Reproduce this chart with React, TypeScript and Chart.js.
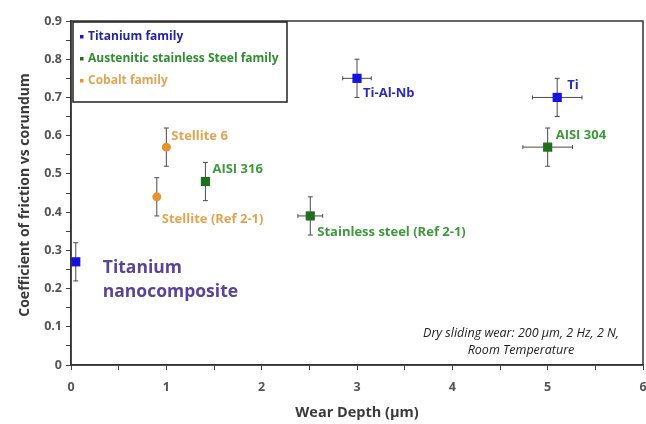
import React, { useEffect, useRef } from "react";
import { Chart, registerables } from "chart.js";

Chart.register(...registerables);

// ---- Data ----
const seriesNames = ["Titanium family", "Austenitic stainless Steel family", "Cobalt family"];

const tiLabels = ["Titanium\nnanocomposite", "Ti-Al-Nb", "Ti"];
const tiX = [0.05, 3.0, 5.1];
const tiY = [0.27, 0.75, 0.70];
const tiXErr = [0, 0.15, 0.26];
const tiYErr = [0.05, 0.05, 0.05];

const steelLabels = ["AISI 316", "Stainless steel (Ref 2-1)", "AISI 304"];
const steelX = [1.41, 2.51, 5.0];
const steelY = [0.48, 0.39, 0.57];
const steelXErr = [0.02, 0.13, 0.26];
const steelYErr = [0.05, 0.05, 0.05];

const cobaltLabels = ["Stellite 6", "Stellite (Ref 2-1)"];
const cobaltX = [1.0, 0.9];
const cobaltY = [0.57, 0.44];
const cobaltXErr = [0.03, 0];
const cobaltYErr = [0.05, 0.05];

const xTitle = "Wear Depth (µm)";
const yTitle = "Coefficient of friction vs corundum";
const noteLines = ["Dry sliding wear: 200 µm, 2 Hz, 2 N,", "Room Temperature"];

// ---- Styles (kept apart from the data) ----
const markerColors = ["#1414e0", "#1f6f1f", "#e8922e"];
const legendTextColors = ["#2424a8", "#2f8f2f", "#e2a456"];
const labelTextColors = ["#2b2bb5", "#3b9b3b", "#e3a452"];
const pointStyles = ["rect", "rect", "circle"];
// label offsets in px relative to the point: [dx, dy]
const labelOffsets = [
  [[27, 6], [6, 15], [10, -12]],
  [[7, -12], [7, 16], [8, -12]],
  [[5, -11], [5, 22]],
];

const FONT = "'Open Sans', Lato, sans-serif";

function mk(xs: number[], ys: number[], xe: number[], ye: number[], labels: string[]) {
  return xs.map((x, i) => ({ x, y: ys[i], xErr: xe[i], yErr: ye[i], label: labels[i] }));
}

const overlayPlugin = {
  id: "overlay",
  beforeDatasetsDraw(chart: any) {
    const ctx = chart.ctx;
    const xs = chart.scales.x;
    const ys = chart.scales.y;
    ctx.save();
    ctx.strokeStyle = "#4a4a4a";
    ctx.lineWidth = 1;
    chart.data.datasets.forEach((ds: any) => {
      ds.data.forEach((p: any) => {
        const px = xs.getPixelForValue(p.x);
        const py = ys.getPixelForValue(p.y);
        if (p.yErr) {
          const t = ys.getPixelForValue(p.y + p.yErr);
          const b = ys.getPixelForValue(p.y - p.yErr);
          ctx.beginPath();
          ctx.moveTo(px, t); ctx.lineTo(px, b);
          ctx.moveTo(px - 2.5, t); ctx.lineTo(px + 2.5, t);
          ctx.moveTo(px - 2.5, b); ctx.lineTo(px + 2.5, b);
          ctx.stroke();
        }
        if (p.xErr) {
          const l = xs.getPixelForValue(p.x - p.xErr);
          const r = xs.getPixelForValue(p.x + p.xErr);
          ctx.beginPath();
          ctx.moveTo(l, py); ctx.lineTo(r, py);
          ctx.moveTo(l, py - 2); ctx.lineTo(l, py + 2);
          ctx.moveTo(r, py - 2); ctx.lineTo(r, py + 2);
          ctx.stroke();
        }
      });
    });
    ctx.restore();
  },
  afterDraw(chart: any) {
    const ctx = chart.ctx;
    const xs = chart.scales.x;
    const ys = chart.scales.y;
    const a = chart.chartArea;
    ctx.save();
    // plot frame
    ctx.strokeStyle = "#333";
    ctx.lineWidth = 1.5;
    ctx.strokeRect(a.left, a.top, a.right - a.left, a.bottom - a.top);

    // point labels
    ctx.textBaseline = "middle";
    ctx.textAlign = "left";
    chart.data.datasets.forEach((ds: any, di: number) => {
      ds.data.forEach((p: any, i: number) => {
        const px = xs.getPixelForValue(p.x);
        const py = ys.getPixelForValue(p.y);
        const [dx, dy] = labelOffsets[di][i];
        const lines = String(p.label).split("\n");
        if (lines.length > 1) {
          ctx.font = `bold 17.5px ${FONT}`;
          ctx.fillStyle = "#5a4399";
          lines.forEach((ln, k) => ctx.fillText(ln, px + dx, py + dy + k * 24));
        } else {
          ctx.font = `bold 13px ${FONT}`;
          ctx.fillStyle = labelTextColors[di];
          ctx.fillText(lines[0], px + dx, py + dy);
        }
      });
    });

    // legend box
    const lx = 73, ly = 22, lw = 214, lh = 80;
    ctx.fillStyle = "#fff";
    ctx.fillRect(lx, ly, lw, lh);
    ctx.strokeStyle = "#222";
    ctx.lineWidth = 1.5;
    ctx.strokeRect(lx, ly, lw, lh);
    ctx.font = `bold 12px ${FONT}`;
    chart.data.datasets.forEach((ds: any, di: number) => {
      const y = 37 + di * 22;
      ctx.fillStyle = markerColors[di];
      ctx.fillRect(80, y - 2, 3.5, 3.5);
      ctx.fillStyle = legendTextColors[di];
      ctx.fillText(ds.label, 88, y);
    });

    // note
    ctx.font = `italic 12.5px ${FONT}`;
    ctx.fillStyle = "#222";
    ctx.textAlign = "center";
    ctx.fillText(noteLines[0], 521, 333);
    ctx.fillText(noteLines[1], 521, 350);

    // axis titles
    ctx.font = `bold 14.5px ${FONT}`;
    ctx.fillStyle = "#3a3a3a";
    ctx.fillText(xTitle, (a.left + a.right) / 2, 413);
    ctx.font = `bold 14px ${FONT}`;
    ctx.translate(25, 195);
    ctx.rotate(-Math.PI / 2);
    ctx.fillText(yTitle, 0, 0);
    ctx.restore();
  },
};

export default function App() {
  const ref = useRef<HTMLCanvasElement>(null);
  useEffect(() => {
    if (!ref.current) return;
    const sets = [
      mk(tiX, tiY, tiXErr, tiYErr, tiLabels),
      mk(steelX, steelY, steelXErr, steelYErr, steelLabels),
      mk(cobaltX, cobaltY, cobaltXErr, cobaltYErr, cobaltLabels),
    ];
    const chart = new Chart(ref.current, {
      type: "scatter",
      data: {
        datasets: sets.map((d, i) => ({
          label: seriesNames[i],
          data: d,
          backgroundColor: markerColors[i],
          borderColor: markerColors[i],
          borderWidth: 0,
          pointStyle: pointStyles[i] as any,
          pointRadius: pointStyles[i] === "rect" ? 6.5 : 4.5,
        })),
      },
      options: {
        responsive: false,
        animation: false,
        devicePixelRatio: 1,
        layout: { autoPadding: false, padding: { top: 21, right: 3, left: 0, bottom: 0 } },
        plugins: { legend: { display: false }, tooltip: { enabled: false } },
        scales: {
          x: {
            type: "linear",
            min: 0,
            max: 6,
            afterFit: (s: any) => { s.height = 59; s.paddingRight = 0; s.paddingLeft = 0; },
            ticks: {
              stepSize: 0.5,
              padding: 10,
              color: "#555",
              font: { family: FONT, weight: "bold", size: 12.5 },
              maxRotation: 0,
              autoSkip: false,
              callback: (v: any) => (Math.abs(v - Math.round(v)) < 1e-6 ? String(Math.round(v)) : ""),
            },
            grid: { drawOnChartArea: false, drawTicks: true, tickLength: 5, color: "#444", lineWidth: 1 },
            border: { display: true, color: "#333", width: 1.5 },
          },
          y: {
            type: "linear",
            min: 0,
            max: 0.9,
            afterFit: (s: any) => { s.width = 71; s.paddingTop = 0; s.paddingBottom = 0; },
            ticks: {
              stepSize: 0.05,
              padding: 4,
              color: "#555",
              font: { family: FONT, weight: "bold", size: 12.5 },
              autoSkip: false,
              callback: (v: any) => {
                const t = Math.round(v * 100);
                if (t % 10 !== 0) return "";
                return t === 0 ? "0" : (t / 100).toFixed(1);
              },
            },
            grid: { drawOnChartArea: false, drawTicks: true, tickLength: 5, color: "#444", lineWidth: 1 },
            border: { display: true, color: "#333", width: 1.5 },
          },
        },
      },
      plugins: [overlayPlugin],
    } as any);
    return () => chart.destroy();
  }, []);
  return (
    <div style={{ position: "absolute", left: 0, top: 0, width: 646, height: 424, background: "#fff" }}>
      <canvas ref={ref} width={646} height={424} />
    </div>
  );
}
